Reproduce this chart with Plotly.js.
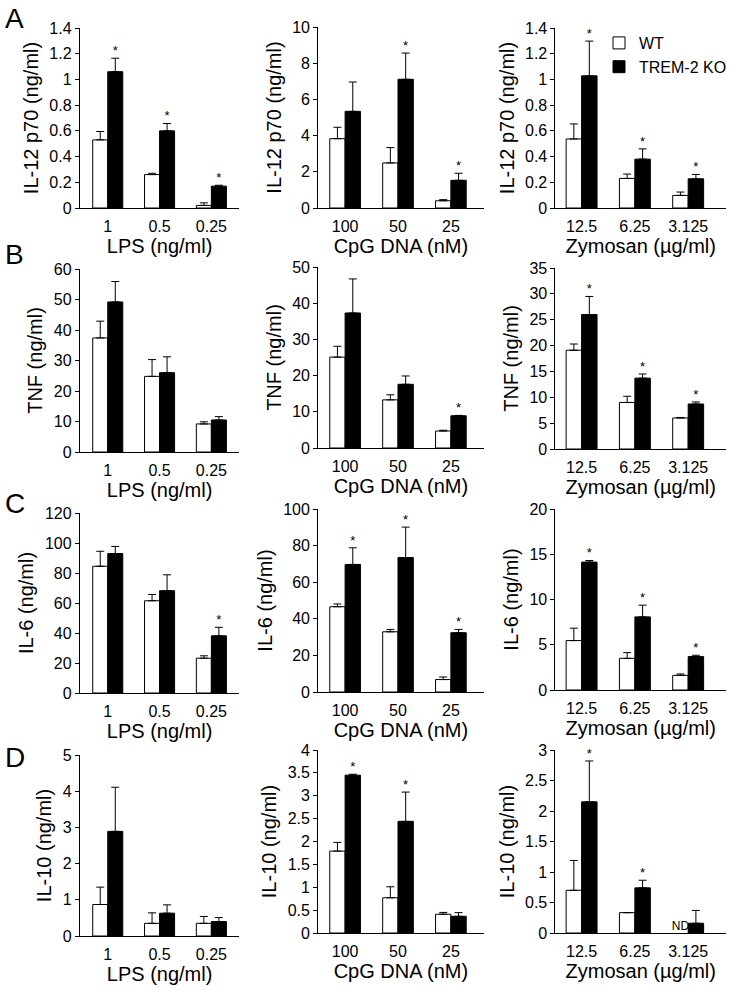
<!DOCTYPE html>
<html>
<head>
<meta charset="utf-8">
<script src="https://cdn.plot.ly/plotly-3.0.1.min.js"></script>
<style>html,body{margin:0;padding:0;background:#fff;}#chart{width:732px;height:990px;}</style>
</head>
<body>
<div id="chart"></div>
<script>
// ---------- categories ----------
const lpsCats = ['1', '0.5', '0.25'];
const cpgCats = ['100', '50', '25'];
const zymCats = ['12.5', '6.25', '3.125'];

const lpsTitle = 'LPS (ng/ml)';
const cpgTitle = 'CpG DNA (nM)';
const zymTitle = 'Zymosan (\u00b5g/ml)';

const seriesNames = ['WT', 'TREM-2 KO'];

// ---------- A: IL-12 p70 ----------
const a1WT = [0.53, 0.26, 0.02];   const a1WTerr = [0.065, 0.01, 0.02];
const a1KO = [1.06, 0.60, 0.17];   const a1KOerr = [0.105, 0.057, 0.007];
const a1Star = [1, 1, 1];

const a2WT = [3.83, 2.49, 0.40];   const a2WTerr = [0.63, 0.85, 0.06];
const a2KO = [5.34, 7.11, 1.53];   const a2KOerr = [1.62, 1.45, 0.39];
const a2Star = [0, 1, 1];

const a3WT = [0.537, 0.23, 0.098]; const a3WTerr = [0.117, 0.034, 0.026];
const a3KO = [1.028, 0.38, 0.227]; const a3KOerr = [0.27, 0.08, 0.034];
const a3Star = [1, 1, 1];

// ---------- B: TNF ----------
const b1WT = [37.4, 24.8, 9.2];    const b1WTerr = [5.5, 5.5, 0.7];
const b1KO = [49.2, 26.0, 10.5];   const b1KOerr = [6.7, 5.2, 1.1];
const b1Star = [0, 0, 0];

const b2WT = [25.1, 13.3, 4.7];    const b2WTerr = [3.0, 1.4, 0.2];
const b2KO = [37.3, 17.6, 8.9];    const b2KOerr = [9.4, 2.3, 0.1];
const b2Star = [0, 0, 1];

const b3WT = [19.1, 9.0, 6.0];     const b3WTerr = [1.2, 1.2, 0.1];
const b3KO = [26.0, 13.7, 8.7];    const b3KOerr = [3.5, 0.8, 0.4];
const b3Star = [1, 1, 1];

// ---------- C: IL-6 ----------
const c1WT = [84.5, 61.5, 23.2];   const c1WTerr = [10.0, 4.2, 1.6];
const c1KO = [93.0, 68.2, 38.1];   const c1KOerr = [4.7, 10.6, 5.7];
const c1Star = [0, 0, 1];

const c2WT = [46.6, 32.9, 6.8];    const c2WTerr = [1.5, 1.3, 1.4];
const c2KO = [69.7, 73.5, 32.4];   const c2KOerr = [9.1, 16.6, 1.8];
const c2Star = [1, 1, 1];

const c3WT = [5.46, 3.5, 1.62];    const c3WTerr = [1.37, 0.63, 0.15];
const c3KO = [14.13, 8.08, 3.69];  const c3KOerr = [0.18, 1.29, 0.15];
const c3Star = [1, 1, 1];

// ---------- D: IL-10 ----------
const d1WT = [0.87, 0.35, 0.35];   const d1WTerr = [0.48, 0.29, 0.19];
const d1KO = [2.89, 0.63, 0.40];   const d1KOerr = [1.22, 0.23, 0.11];
const d1Star = [0, 0, 0];

const d2WT = [1.79, 0.77, 0.41];   const d2WTerr = [0.19, 0.24, 0.04];
const d2KO = [3.45, 2.44, 0.365];  const d2KOerr = [0.02, 0.64, 0.08];
const d2Star = [1, 1, 0];

const d3WT = [0.70, 0.334, null];  const d3WTerr = [0.49, 0, 0];
const d3KO = [2.15, 0.74, 0.16];   const d3KOerr = [0.67, 0.125, 0.21];
const d3Star = [1, 1, 0];
const d3WTlabel = ['', '', 'ND'];

// ---------- y axis settings ----------
const yTitles = ['IL-12 p70 (ng/ml)', 'TNF (ng/ml)', 'IL-6 (ng/ml)', 'IL-10 (ng/ml)'];
const yMax = [[1.4, 10, 1.4], [60, 50, 35], [120, 100, 20], [5, 4, 3]];
const yStep = [[0.2, 2, 0.2], [10, 10, 5], [20, 20, 5], [1, 0.5, 0.5]];
const rowLetters = ['A', 'B', 'C', 'D'];

// ---------- layout geometry (px) ----------
const W = 732, H = 990;
const colX = [[80, 240], [319, 485], [557, 728]];
const colRange = [[-0.54, 2.54], [-0.51, 2.62], [-0.49, 2.71]];
const rowY = [
  [[28, 208], [27, 208], [28, 208]],
  [[269, 452], [267, 448], [268, 449]],
  [[513, 693], [509, 692], [509, 690]],
  [[755, 936], [750, 933], [750, 933]]
];
const letterY = [18, 254, 503, 757];

const panels = [
  [[a1WT, a1WTerr, a1KO, a1KOerr, a1Star], [a2WT, a2WTerr, a2KO, a2KOerr, a2Star], [a3WT, a3WTerr, a3KO, a3KOerr, a3Star]],
  [[b1WT, b1WTerr, b1KO, b1KOerr, b1Star], [b2WT, b2WTerr, b2KO, b2KOerr, b2Star], [b3WT, b3WTerr, b3KO, b3KOerr, b3Star]],
  [[c1WT, c1WTerr, c1KO, c1KOerr, c1Star], [c2WT, c2WTerr, c2KO, c2KOerr, c2Star], [c3WT, c3WTerr, c3KO, c3KOerr, c3Star]],
  [[d1WT, d1WTerr, d1KO, d1KOerr, d1Star], [d2WT, d2WTerr, d2KO, d2KOerr, d2Star], [d3WT, d3WTerr, d3KO, d3KOerr, d3Star]]
];
const colCats = [lpsCats, cpgCats, zymCats];
const colTitles = [lpsTitle, cpgTitle, zymTitle];

const FONT = 'Liberation Sans, Arial, Helvetica, sans-serif';
const BW = 0.29;      // bar width in category units
const OFF = BW / 2;

const traces = [];
const layout = {
  width: W, height: H,
  margin: {l: 0, r: 0, t: 0, b: 0},
  paper_bgcolor: 'white', plot_bgcolor: 'white',
  font: {family: FONT, color: 'black', size: 16},
  barmode: 'overlay',
  showlegend: true,
  legend: {
    x: 601 / W, y: 1 - 26 / H, xanchor: 'left', yanchor: 'top',
    bgcolor: 'rgba(0,0,0,0)', borderwidth: 0,
    font: {family: FONT, size: 16, color: 'black'},
    tracegroupgap: 0, itemwidth: 30
  },
  annotations: []
};

let n = 0;
for (let r = 0; r < 4; r++) {
  for (let c = 0; c < 3; c++) {
    n++;
    const xa = n === 1 ? 'x' : 'x' + n;
    const ya = n === 1 ? 'y' : 'y' + n;
    const [wt, wtErr, ko, koErr, star] = panels[r][c];
    const idx = wt.map((_, i) => i);
    const first = (n === 3);
    traces.push({
      type: 'bar', name: seriesNames[0], legendgroup: 'wt', showlegend: first,
      x: idx.map(i => i - OFF), y: wt, width: BW, xaxis: xa, yaxis: ya,
      marker: {color: 'white', line: {color: 'black', width: 1}},
      error_y: {type: 'data', symmetric: false, array: wtErr, arrayminus: wtErr.map(() => 0),
                color: 'black', thickness: 1, width: 4},
      hoverinfo: 'y'
    });
    traces.push({
      type: 'bar', name: seriesNames[1], legendgroup: 'ko', showlegend: first,
      x: idx.map(i => i + OFF), y: ko, width: BW, xaxis: xa, yaxis: ya,
      marker: {color: 'black', line: {color: 'black', width: 1}},
      error_y: {type: 'data', symmetric: false, array: koErr, arrayminus: koErr.map(() => 0),
                color: 'black', thickness: 1, width: 4},
      hoverinfo: 'y'
    });
    const sx = [], sy = [];
    idx.forEach(i => { if (star[i]) { sx.push(i + OFF); sy.push(ko[i] + koErr[i]); } });
    if (sx.length) {
      traces.push({
        type: 'scatter', mode: 'text', x: sx, y: sy, text: sx.map(() => '*'),
        textposition: 'top center', textfont: {family: FONT, size: 13, color: 'black'},
        xaxis: xa, yaxis: ya, showlegend: false, hoverinfo: 'skip', cliponaxis: false
      });
    }
    if (r === 3 && c === 2) {
      const nx = [], ny = [], nt = [];
      idx.forEach(i => { if (d3WTlabel[i]) { nx.push(i - OFF); ny.push(0); nt.push(d3WTlabel[i]); } });
      traces.push({
        type: 'scatter', mode: 'text', x: nx, y: ny, text: nt,
        textposition: 'top center', textfont: {family: FONT, size: 12, color: 'black'},
        xaxis: xa, yaxis: ya, showlegend: false, hoverinfo: 'skip', cliponaxis: false
      });
    }
    const [px0, px1] = colX[c];
    const [py0, py1] = rowY[r][c];
    const xKey = n === 1 ? 'xaxis' : 'xaxis' + n;
    const yKey = n === 1 ? 'yaxis' : 'yaxis' + n;
    layout[xKey] = {
      domain: [px0 / W, px1 / W], anchor: ya, range: colRange[c],
      tickmode: 'array', tickvals: [0, 1, 2], ticktext: colCats[c],
      ticks: '', showline: true, linecolor: 'black', linewidth: 1,
      showgrid: false, zeroline: false, fixedrange: true, ticklabelstandoff: 4,
      tickfont: {family: FONT, size: 16, color: 'black'},
      title: {text: colTitles[c], font: {family: FONT, size: 20, color: 'black'}, standoff: 4}
    };
    layout[yKey] = {
      domain: [1 - py1 / H, 1 - py0 / H], anchor: xa, range: [0, yMax[r][c]],
      tick0: 0, dtick: yStep[r][c],
      ticks: 'outside', ticklen: 4, tickcolor: 'black', tickwidth: 1,
      showline: true, linecolor: 'black', linewidth: 1,
      showgrid: false, zeroline: false, fixedrange: true,
      tickfont: {family: FONT, size: 16, color: 'black'},
      title: {text: yTitles[r], font: {family: FONT, size: 20, color: 'black'}, standoff: 5}
    };
  }
  layout.annotations.push({
    xref: 'paper', yref: 'paper', x: 15 / W, y: 1 - letterY[r] / H,
    xanchor: 'center', yanchor: 'middle', showarrow: false,
    text: rowLetters[r], font: {family: FONT, size: 28, color: 'black'}
  });
}

Plotly.newPlot('chart', traces, layout, {displayModeBar: false, staticPlot: true});
</script>
</body>
</html>
